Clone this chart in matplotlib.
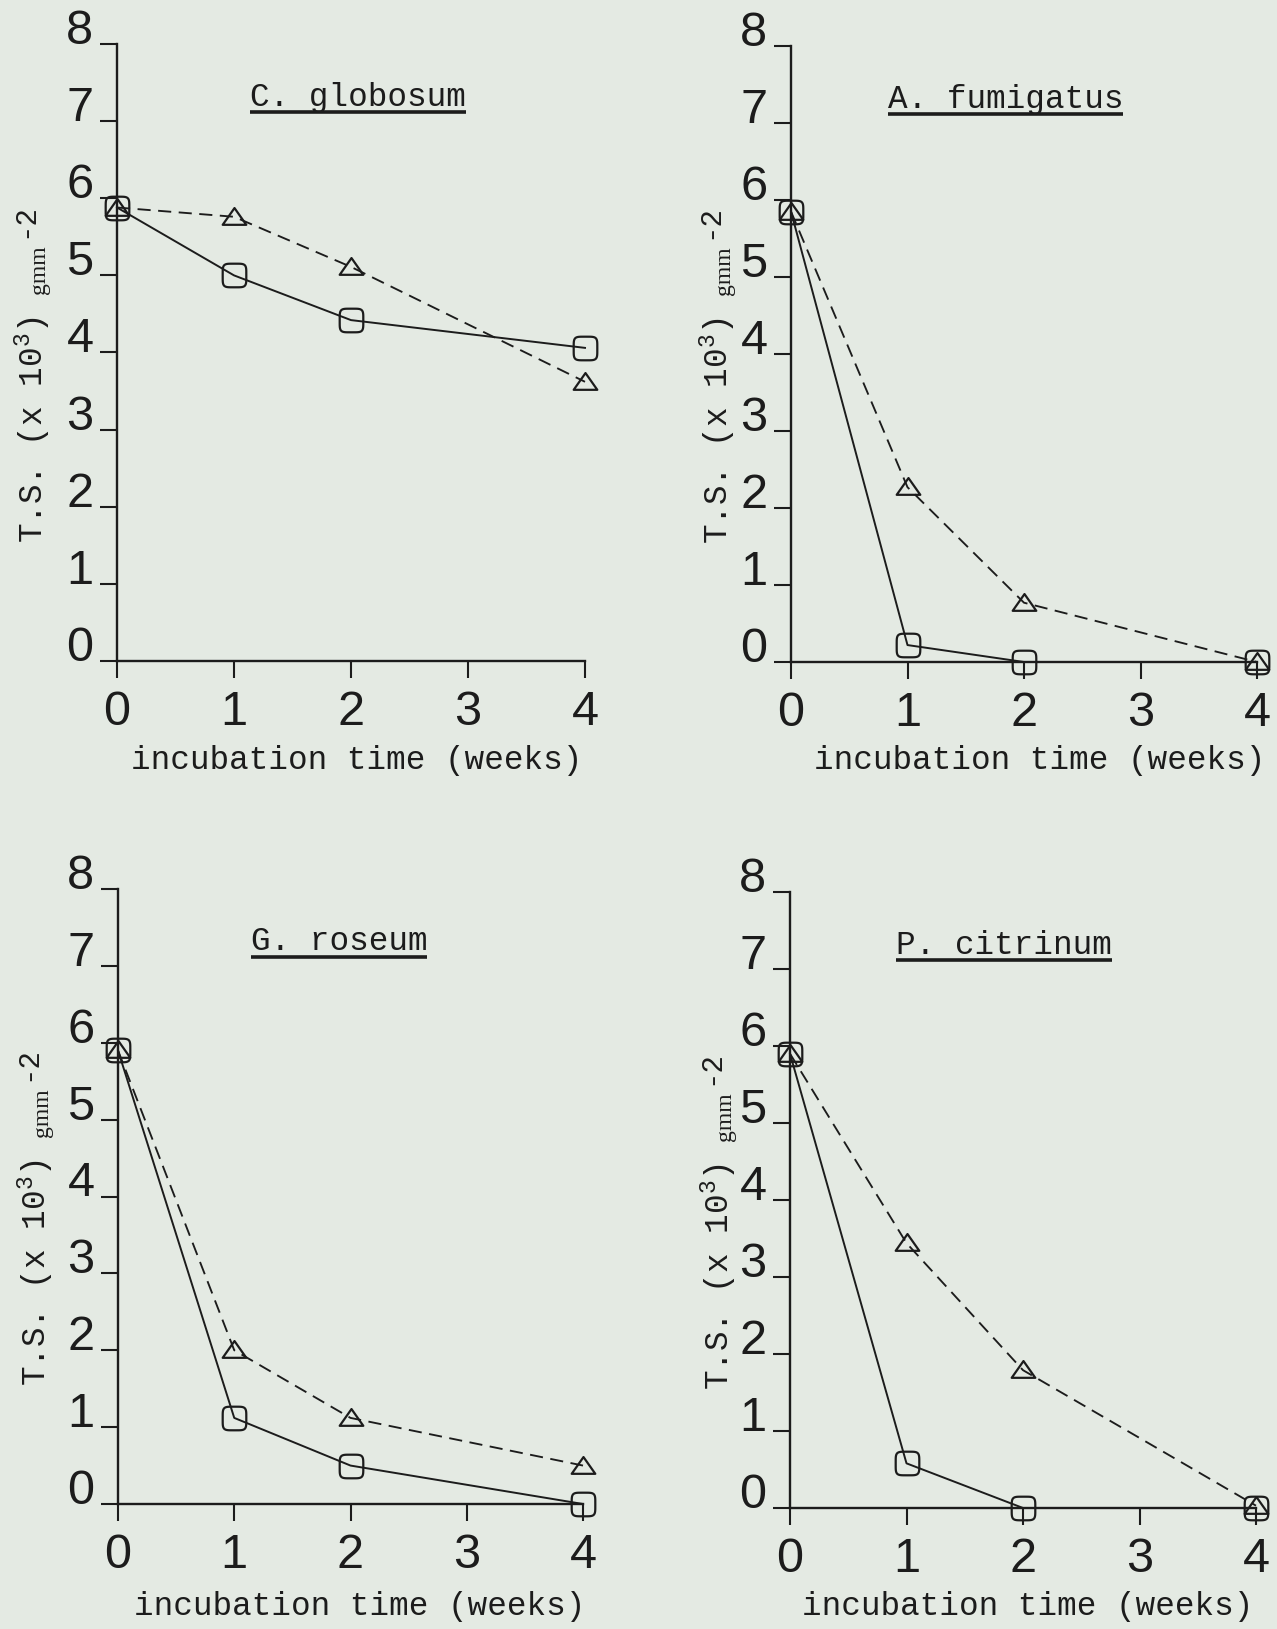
import numpy as np
import matplotlib
matplotlib.use("Agg")
import matplotlib.pyplot as plt
from matplotlib.path import Path
from matplotlib.lines import Line2D
from matplotlib.transforms import IdentityTransform
import logging

logging.getLogger("matplotlib.font_manager").setLevel(logging.ERROR)

# ---------------------------------------------------------------- data
weeks = [0, 1, 2, 4]
x_ticks = [0, 1, 2, 3, 4]
y_ticks = [0, 1, 2, 3, 4, 5, 6, 7, 8]

species = ["C. globosum", "A. fumigatus", "G. roseum", "P. citrinum"]

# tensile strength (x 10^3 g mm^-2): circles = solid line, triangles = dashed line
c_globosum_circle = [5.88, 5.00, 4.42, 4.06]
c_globosum_triangle = [5.88, 5.76, 5.11, 3.62]

a_fumigatus_circle = [5.85, 0.22, 0.00, 0.00]
a_fumigatus_triangle = [5.85, 2.27, 0.77, 0.00]

g_roseum_circle = [5.90, 1.12, 0.50, 0.00]
g_roseum_triangle = [5.90, 2.00, 1.12, 0.50]

p_citrinum_circle = [5.90, 0.58, 0.00, 0.00]
p_citrinum_triangle = [5.90, 3.44, 1.79, 0.03]

x_label = "incubation time (weeks)"

# ---------------------------------------------------------------- style
W, H, DPI = 1277, 1629, 100
PAPER = "#e4eae3"
INK = "#1c1c1c"
MONO = ["Liberation Mono", "DejaVu Sans Mono"]
DIGITS = ["DejaVu Sans Condensed", "Liberation Sans Narrow", "Liberation Sans"]
SERIF = ["Liberation Serif", "DejaVu Serif"]

# plotter-style symbols: rounded square "circle" and a squat triangle
_t = np.linspace(0, 2 * np.pi, 73)
_n = 5.0
_rsq = np.column_stack([np.sign(np.cos(_t)) * np.abs(np.cos(_t)) ** (2 / _n),
                        np.sign(np.sin(_t)) * np.abs(np.sin(_t)) ** (2 / _n)])
ROUND_SQ = Path(_rsq, closed=True)
TRIANGLE = Path([(-1, -0.62), (1, -0.62), (0, 0.8), (-1, -0.62)], closed=True)

# panel geometry in pixels: (x at 0 wk, x at 4 wk, y at 0, y at 8) measured from the top
panels = [
    dict(name=species[0], circ=c_globosum_circle, tri=c_globosum_triangle,
         box=(117, 585, 661, 44), title=(1.14, "left"), ylab_off=74, xlab=(357, 761)),
    dict(name=species[1], circ=a_fumigatus_circle, tri=a_fumigatus_triangle,
         box=(791, 1257, 662, 46), title=(1.84, "center"), ylab_off=63, xlab=(1040, 761)),
    dict(name=species[2], circ=g_roseum_circle, tri=g_roseum_triangle,
         box=(118, 583, 1504, 889), title=(1.14, "left"), ylab_off=72, xlab=(360, 1607)),
    dict(name=species[3], circ=p_citrinum_circle, tri=p_citrinum_triangle,
         box=(790, 1256, 1508, 892), title=(1.84, "center"), ylab_off=61, xlab=(1028, 1607)),
]

fig = plt.figure(figsize=(W / DPI, H / DPI), dpi=DPI, facecolor=PAPER)
ident = IdentityTransform()

titles = []
for p in panels:
    x0, x4, y0, y8 = p["box"]
    ax = fig.add_axes([x0 / W, 1 - y0 / H, (x4 - x0) / W, (y0 - y8) / H])
    ax.patch.set_alpha(0)
    ax.set_xlim(0, 4)
    ax.set_ylim(0, 8)
    for s in ("top", "right"):
        ax.spines[s].set_visible(False)
    for s in ("left", "bottom"):
        ax.spines[s].set_linewidth(1.7)
        ax.spines[s].set_color(INK)
    ax.set_xticks(x_ticks, [str(v) for v in x_ticks])
    ax.set_yticks(y_ticks, [str(v) for v in y_ticks])
    ax.tick_params(direction="out", length=12, width=1.5, color=INK,
                   labelcolor=INK, labelsize=35)
    ax.tick_params(axis="x", pad=9)
    ax.tick_params(axis="y", pad=5)
    for lab in ax.get_xticklabels():
        lab.set_fontfamily(DIGITS)
    for lab in ax.get_yticklabels():
        lab.set_fontfamily(DIGITS)
        lab.set_verticalalignment("baseline")

    ax.plot(weeks, p["tri"], linestyle=(0, (7, 4)), lw=1.35, color=INK,
            marker=TRIANGLE, ms=17, mfc="none", mec=INK, mew=1.6, clip_on=False, zorder=3)
    ax.plot(weeks, p["circ"], linestyle="-", lw=1.4, color=INK,
            marker=ROUND_SQ, ms=17, mfc="none", mec=INK, mew=1.6, clip_on=False, zorder=4)

    tx, ha = p["title"]
    t = ax.text(tx, 7.2, p["name"], ha=ha, va="baseline", fontsize=23.5,
                family=MONO, color=INK)
    titles.append(t)

    cx, cy = p["xlab"]
    fig.text(cx, H - cy, x_label, transform=ident, ha="center", va="center",
             fontsize=23.5, family=MONO, color=INK)

fig.canvas.draw()
renderer = fig.canvas.get_renderer()

# underline the species names
for t in titles:
    bb = t.get_window_extent(renderer)
    yb = bb.y0 + 0.5
    fig.add_artist(Line2D([bb.x0, bb.x1], [yb, yb], transform=ident,
                          color=INK, lw=2.6, solid_capstyle="butt"))

# y-axis label, built from pieces so the unit can be set smaller
ylab_parts = []
for p in panels:
    x0, x4, y0, y8 = p["box"]
    bx = x0 - p["ylab_off"]
    by = H - (y0 - 118)
    t1 = fig.text(bx, by, r"T.S. (x 10$\mathregular{^3}$)", transform=ident,
                  rotation=90, rotation_mode="anchor", ha="left", va="baseline",
                  fontsize=23.5, family=MONO, color=INK)
    ylab_parts.append((t1, bx))

fig.canvas.draw()
for t1, bx in ylab_parts:
    bb1 = t1.get_window_extent(renderer)
    t2 = fig.text(bx + 2, bb1.y1 + 22, "gmm", transform=ident, rotation=90,
                  rotation_mode="anchor", ha="left", va="baseline",
                  fontsize=17, family=SERIF, color=INK)
    fig.canvas.draw()
    bb2 = t2.get_window_extent(renderer)
    fig.text(bx - 11, bb2.y1 + 8, "-2", transform=ident, rotation=90,
             rotation_mode="anchor", ha="left", va="baseline",
             fontsize=21, family=MONO, color=INK)

fig.savefig("out.png", dpi=DPI, facecolor=PAPER)
